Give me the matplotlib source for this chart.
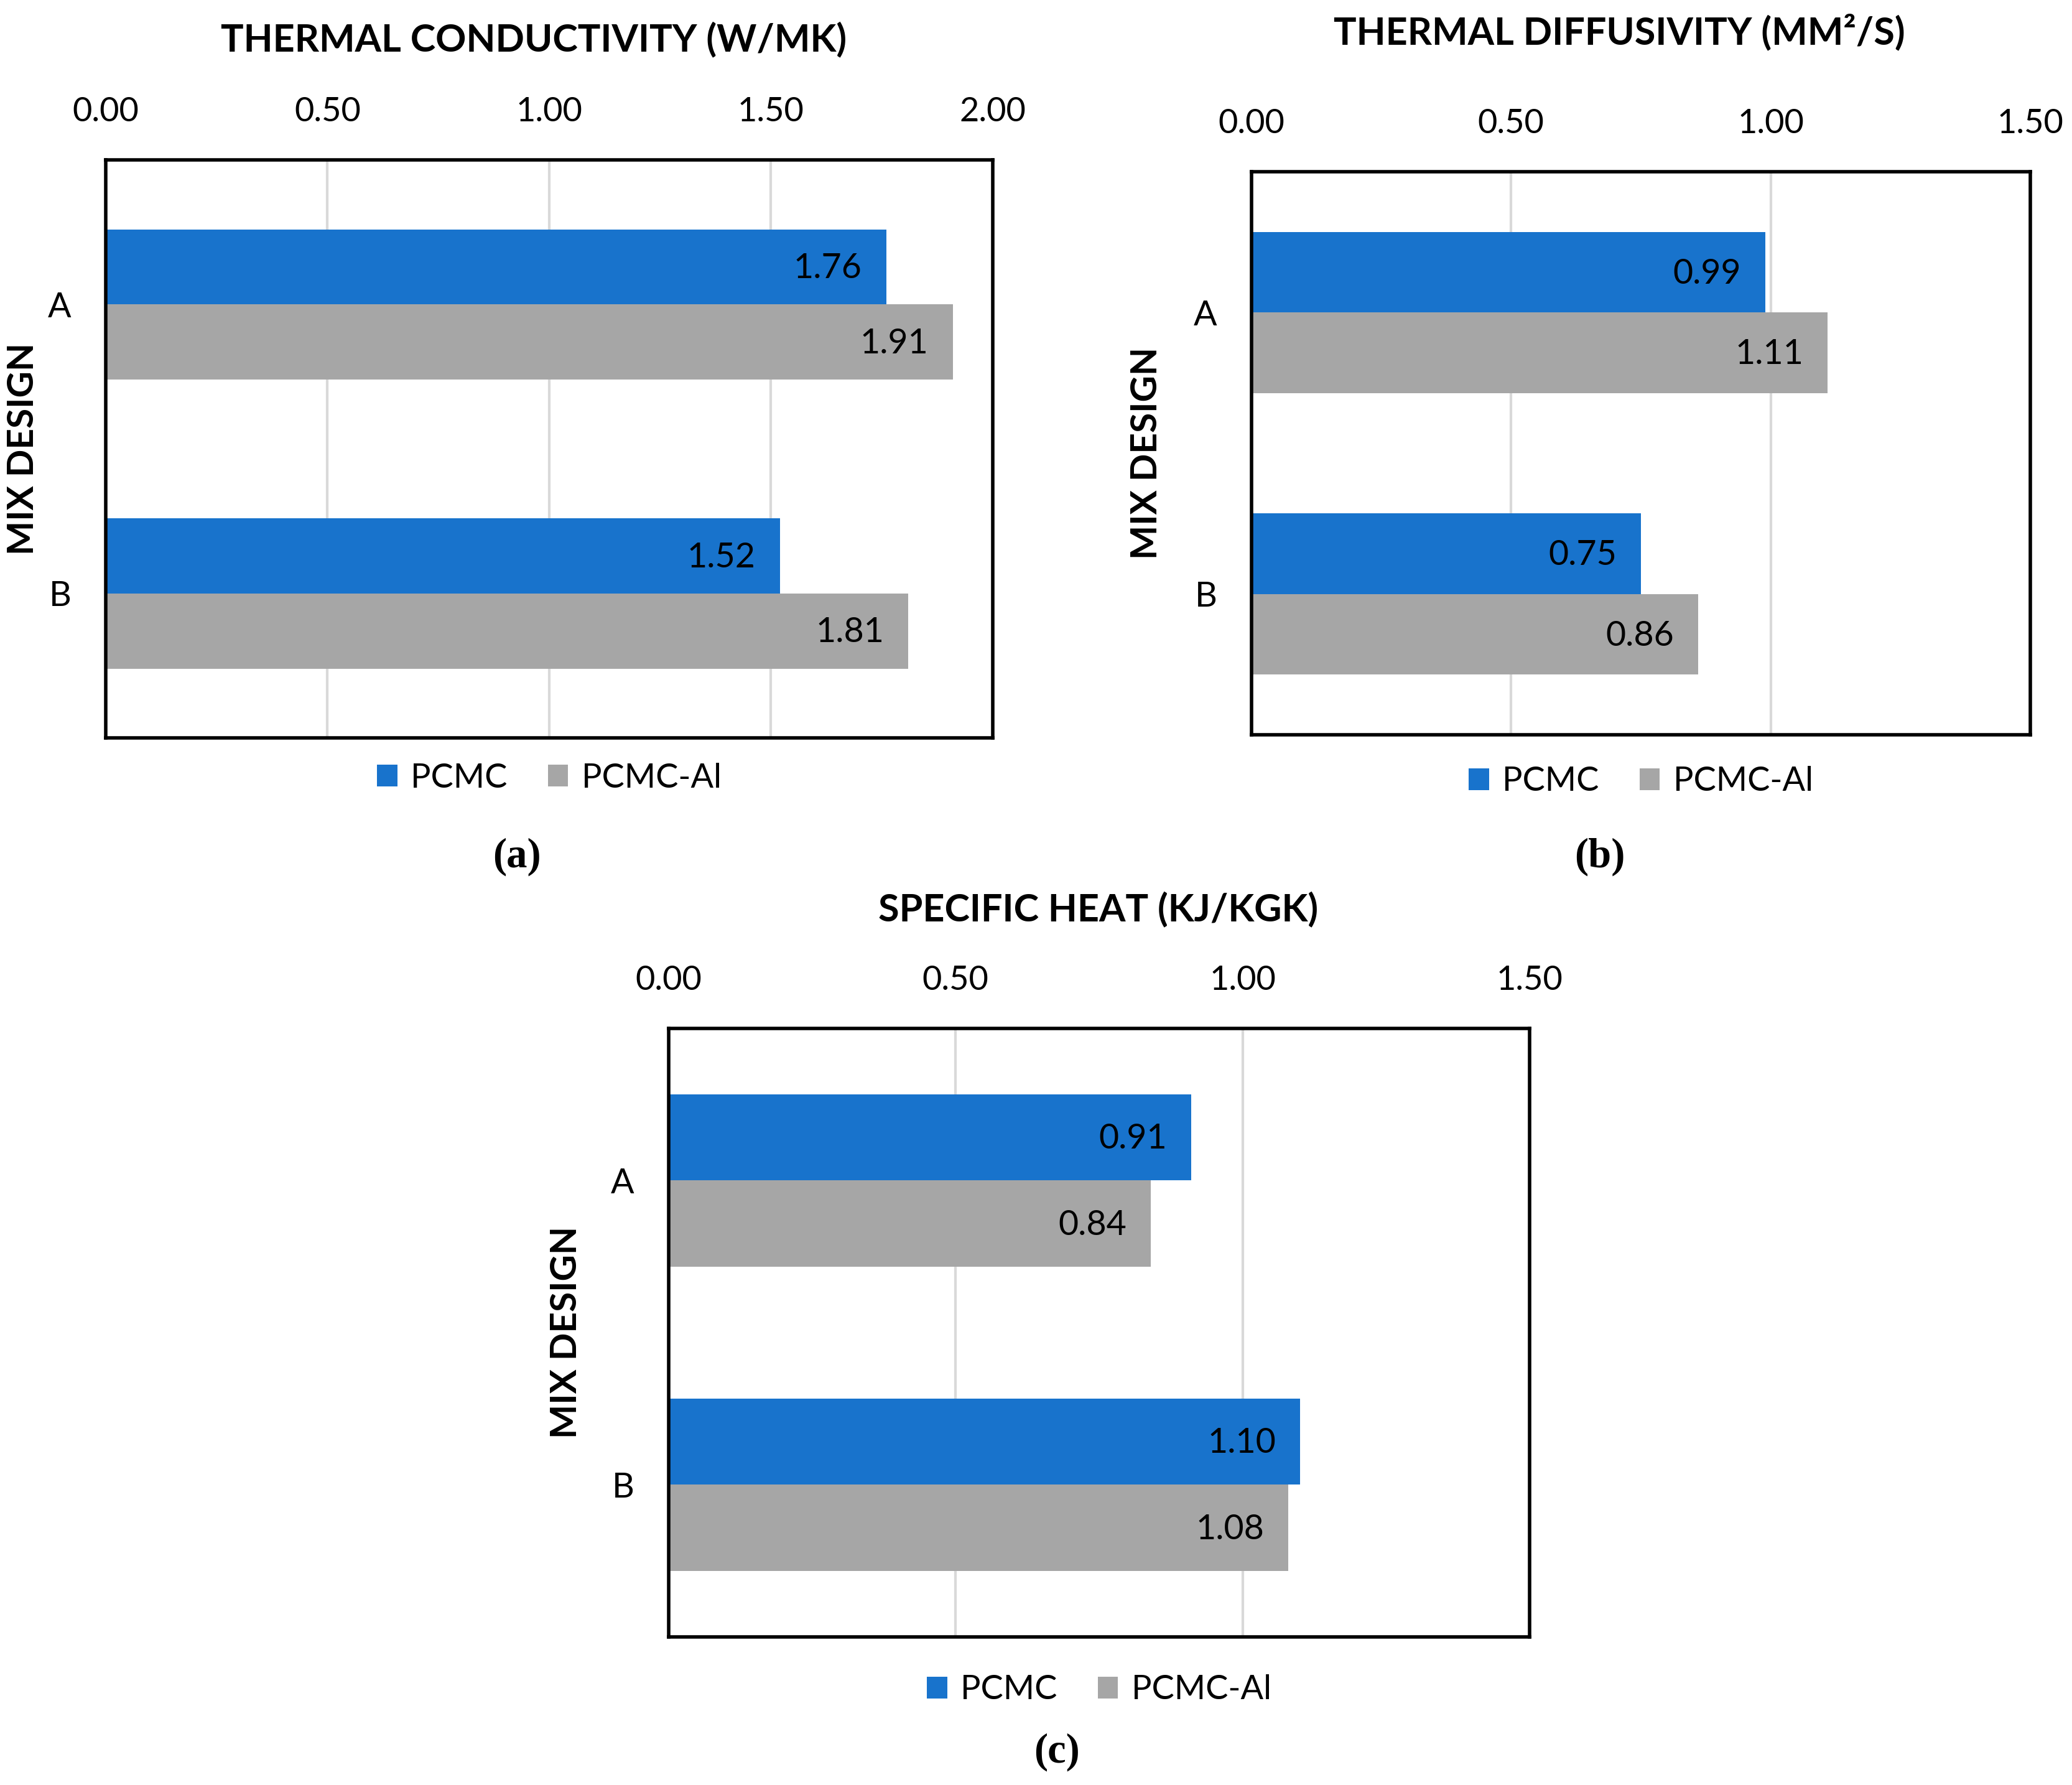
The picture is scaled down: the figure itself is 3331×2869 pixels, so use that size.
import numpy as np
import matplotlib
matplotlib.use('Agg')
import matplotlib.pyplot as plt

plt.rcParams['font.family'] = ['Lato', 'DejaVu Sans']

# Daten
mix = ['A', 'B']
series = ['PCMC', 'PCMC-Al']

conductivity_pcmc = [1.76, 1.52]
conductivity_al = [1.91, 1.81]

diffusivity_pcmc = [0.99, 0.75]
diffusivity_al = [1.11, 0.86]

heat_pcmc = [0.91, 1.10]
heat_al = [0.84, 1.08]

titles = ['THERMAL CONDUCTIVITY (W/MK)', 'THERMAL DIFFUSIVITY (MM²/S)',
          'SPECIFIC HEAT (KJ/KGK)']
xticks_a = [0.0, 0.5, 1.0, 1.5, 2.0]
xticks_bc = [0.0, 0.5, 1.0, 1.5]
captions = ['(a)', '(b)', '(c)']

blue = '#1873CC'
grey = '#A6A6A6'

fig = plt.figure(figsize=(3331 / 200, 2869 / 200), dpi=200)


def panel(rect, pcmc, al, ticks, bar_h, ylab_x, leg_y):
    ax = fig.add_axes(rect)
    y = np.arange(len(mix))
    b1 = ax.barh(y - bar_h / 2, pcmc, height=bar_h, color=blue, label=series[0])
    b2 = ax.barh(y + bar_h / 2, al, height=bar_h, color=grey, label=series[1])
    for bars in (b1, b2):
        for r in bars:
            w = r.get_width()
            ax.annotate('%.2f' % w, (w, r.get_y() + r.get_height() / 2),
                        xytext=(-14, -1), textcoords='offset points',
                        ha='right', va='center', fontsize=20)
    ax.set_xlim(ticks[0], ticks[-1])
    ax.set_ylim(len(mix) - 0.5, -0.5)
    ax.set_xticks(ticks)
    ax.set_xticklabels(['%.2f' % t for t in ticks])
    ax.xaxis.tick_top()
    ax.tick_params(axis='x', length=0, pad=19, labelsize=19.5)
    ax.set_yticks(y)
    ax.set_yticklabels(mix)
    ax.tick_params(axis='y', length=0, pad=20, labelsize=20)
    ax.grid(axis='x', color='#d9d9d9', lw=1.5)
    ax.set_axisbelow(True)
    for s in ax.spines.values():
        s.set_color('black')
        s.set_linewidth(2)
    ax.set_ylabel('MIX DESIGN', fontsize=21, fontweight='bold')
    ax.yaxis.set_label_coords(ylab_x, 0.5)
    ax.legend(loc='center', bbox_to_anchor=(0.5, leg_y), ncol=2, frameon=False,
              fontsize=19.5, handlelength=0.6, handleheight=0.6,
              handletextpad=0.4, columnspacing=1.2)
    return ax


panel([0.0510, 0.5866, 0.4281, 0.3238], conductivity_pcmc, conductivity_al,
      xticks_a, 0.26, -0.074, -0.069)
panel([0.6040, 0.5884, 0.3759, 0.3154], diffusivity_pcmc, diffusivity_al,
      xticks_bc, 0.286, -0.113, -0.083)
panel([0.3227, 0.0830, 0.4155, 0.3409], heat_pcmc, heat_al,
      xticks_bc, 0.283, -0.100, -0.087)

# Titel und Unterschriften
for (x, yy), t in zip([(0.2576, 0.978), (0.7814, 0.9822), (0.530, 0.4905)], titles):
    fig.text(x, yy, t, ha='center', va='center', fontsize=22, fontweight='bold')
for (x, yy), c in zip([(0.2495, 0.520), (0.772, 0.520), (0.510, 0.0185)], captions):
    fig.text(x, yy, c, ha='center', va='center', fontsize=24, fontweight='bold',
             family='Liberation Serif')

fig.savefig('out.png', dpi=200)
